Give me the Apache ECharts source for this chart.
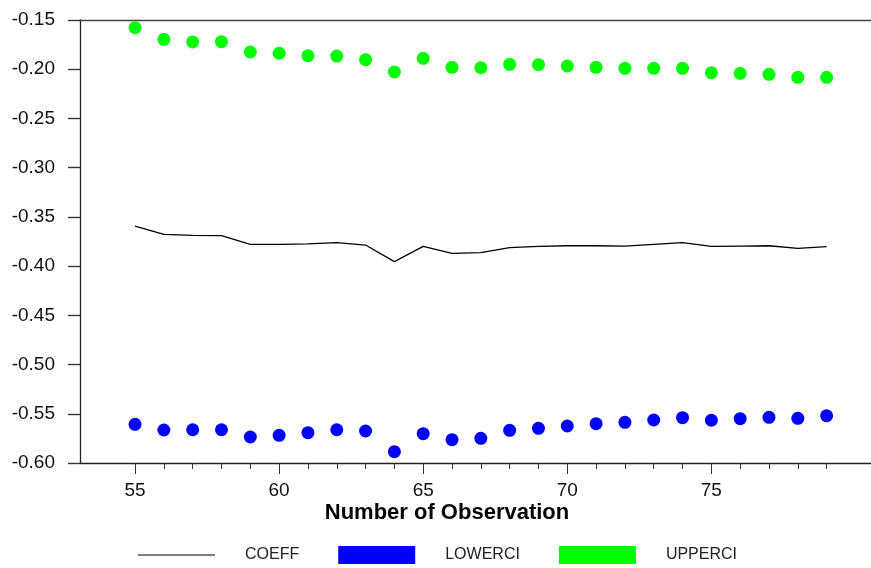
<!DOCTYPE html>
<html>
<head>
<meta charset="utf-8">
<script src="https://cdn.jsdelivr.net/npm/echarts@6/dist/echarts.min.js"></script>
<style>html,body{margin:0;padding:0;background:#fff}#c{width:871px;height:568px}</style>
</head>
<body>
<div id="c"></div>
<script>
var obs = [55,56,57,58,59,60,61,62,63,64,65,66,67,68,69,70,71,72,73,74,75,76,77,78,79];
var coeff = [-0.3593,-0.3677,-0.3687,-0.3691,-0.3779,-0.3779,-0.3775,-0.3762,-0.3786,-0.3955,-0.3799,-0.3870,-0.3864,-0.3813,-0.3799,-0.3793,-0.3793,-0.3796,-0.3779,-0.3762,-0.3799,-0.3796,-0.3793,-0.3820,-0.3803];
var lowerci = [-0.5607,-0.5665,-0.5662,-0.5662,-0.5736,-0.5719,-0.5692,-0.5662,-0.5675,-0.5885,-0.5702,-0.5763,-0.5749,-0.5668,-0.5648,-0.5624,-0.5601,-0.5587,-0.5563,-0.5540,-0.5566,-0.5550,-0.5536,-0.5546,-0.5520];
var upperci = [-0.1578,-0.1696,-0.1723,-0.1720,-0.1825,-0.1838,-0.1863,-0.1866,-0.1903,-0.2028,-0.1889,-0.1981,-0.1984,-0.1950,-0.1954,-0.1967,-0.1981,-0.1991,-0.1991,-0.1991,-0.2035,-0.2042,-0.2052,-0.2082,-0.2082];
var majorTicks = [55,60,65,70,75];
var minorTicks = obs.filter(function(v){return v % 5 !== 0;});

function pairs(ys){ return obs.map(function(x,i){return [x, ys[i]];}); }

var FONT = 'Liberation Sans';
var chart = echarts.init(document.getElementById('c'), null, {renderer:'canvas'});
var XMIN = 53.09, XMAX = 80.54;
var YMIN = -0.60, YMAX = -0.15, YSTEP = 0.05;
chart.setOption({
  animation:false,
  backgroundColor:'#fff',
  textStyle:{fontFamily:FONT},
  title:{
    text:'Number of Observation',
    left:442, top:497, textAlign:'center',
    textStyle:{fontFamily:FONT, fontSize:22, fontWeight:'bold', color:'#000'}
  },
  legend:{
    left:133, top:541,
    itemWidth:77, itemHeight:18, itemGap:39,
    textStyle:{fontFamily:FONT, fontSize:16, color:'#222', padding:[0,0,0,25]},
    data:[
      {name:'COEFF', icon:'path://M0,0 L77,0 L77,1.2 L0,1.2 Z', itemStyle:{color:'#000'}},
      {name:'LOWERCI', icon:'rect'},
      {name:'UPPERCI', icon:'rect'}
    ]
  },
  grid:[
    {left:80, top:20, right:0, bottom:105},
    {left:68, top:20, width:12, bottom:105}
  ],
  xAxis:[
    {
      type:'value', gridIndex:0, min:XMIN, max:XMAX, position:'bottom',
      axisLine:{show:true, lineStyle:{color:'#222', width:1.3}},
      axisTick:{show:true, length:11, customValues:majorTicks, lineStyle:{color:'#333', width:1}},
      axisLabel:{show:true, customValues:majorTicks, margin:18, fontFamily:FONT, fontSize:19, color:'#111'},
      splitLine:{show:false}
    },
    {
      type:'value', gridIndex:0, min:XMIN, max:XMAX, position:'bottom', offset:0,
      axisLine:{show:false},
      axisTick:{show:true, length:6, customValues:minorTicks, lineStyle:{color:'#333', width:1}},
      axisLabel:{show:false},
      splitLine:{show:false}
    },
    {
      type:'value', gridIndex:0, min:XMIN, max:XMAX, position:'top',
      axisLine:{show:true, lineStyle:{color:'#444', width:1.3}},
      axisTick:{show:false}, axisLabel:{show:false}, splitLine:{show:false}
    },
    {
      type:'value', gridIndex:1, min:0, max:1, show:false
    }
  ],
  yAxis:[
    {
      type:'value', gridIndex:0, min:YMIN, max:YMAX, interval:YSTEP, position:'left',
      axisLine:{show:true, lineStyle:{color:'#222', width:1.3}},
      axisTick:{show:true, length:12, lineStyle:{color:'#333', width:1.2}},
      axisLabel:{margin:25, fontFamily:FONT, fontSize:19, color:'#111',
        formatter:function(v){return v.toFixed(2);}},
      splitLine:{show:false}
    },
    {
      type:'value', gridIndex:1, min:YMIN, max:YMAX, interval:YSTEP,
      axisLine:{show:false}, axisTick:{show:false}, axisLabel:{show:false},
      splitLine:{show:true, lineStyle:{color:'#333', width:1.2}}
    }
  ],
  series:[
    {name:'COEFF', type:'line', xAxisIndex:0, yAxisIndex:0, data:pairs(coeff), symbol:'none',
      lineStyle:{color:'#000', width:1.3}, itemStyle:{color:'#000'}},
    {name:'LOWERCI', type:'scatter', xAxisIndex:0, yAxisIndex:0, data:pairs(lowerci), symbolSize:13,
      itemStyle:{color:'#0000ff', opacity:1}},
    {name:'UPPERCI', type:'scatter', xAxisIndex:0, yAxisIndex:0, data:pairs(upperci), symbolSize:13,
      itemStyle:{color:'#00ff00', opacity:1}}
  ]
});
</script>
</body>
</html>
